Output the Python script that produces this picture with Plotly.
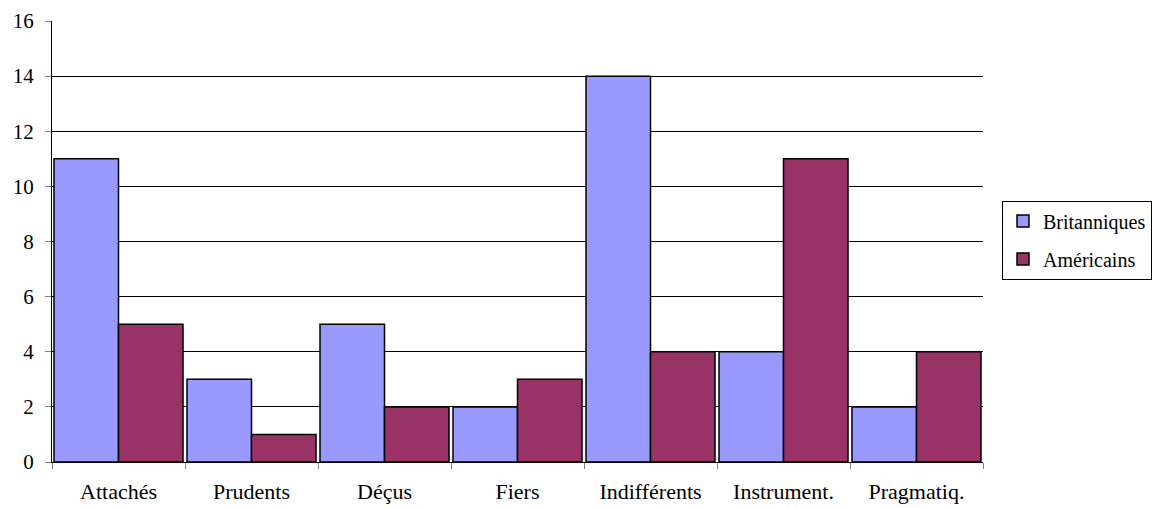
import plotly.graph_objects as go

# categories and values
categories = ["Attachés", "Prudents", "Déçus", "Fiers", "Indifférents", "Instrument.", "Pragmatiq."]
britanniques = [11, 3, 5, 2, 14, 4, 2]
americains = [5, 1, 2, 3, 4, 11, 4]
y_ticks = [0, 2, 4, 6, 8, 10, 12, 14, 16]

FONT = "Liberation Serif, Times New Roman, Times, DejaVu Serif, serif"

fig = go.Figure()
fig.add_trace(go.Bar(
    x=categories, y=britanniques, name="Britanniques", legendgroup="b",
    marker_color="#9999FF", marker_line_color="black", marker_line_width=1.5,
))
fig.add_trace(go.Bar(
    x=categories, y=americains, name="Américains", legendgroup="a",
    marker_color="#993366", marker_line_color="black", marker_line_width=1.5,
))

fig.update_layout(
    width=1160, height=508,
    barmode="group", bargap=0.03, bargroupgap=0,
    plot_bgcolor="white", paper_bgcolor="white",
    margin=dict(l=52, r=177, t=21, b=46, autoexpand=False),
    font=dict(family=FONT, size=22, color="black"),
    legend=dict(
        xref="container", yref="container",
        x=1002 / 1160, xanchor="left", y=1 - 240 / 508, yanchor="middle",
        bordercolor="black", borderwidth=1,
        traceorder="grouped", tracegroupgap=9,
        font=dict(family=FONT, size=20),
    ),
)

fig.update_xaxes(
    showline=True, linecolor="black", linewidth=1, automargin=False,
    ticks="outside", tickson="boundaries", ticklen=6, tickcolor="gray",
    tickfont=dict(family=FONT, size=22), ticklabelstandoff=10,
)
fig.update_yaxes(
    range=[0, 16], tickvals=y_ticks, automargin=False,
    showline=True, linecolor="black", linewidth=1,
    showgrid=True, gridcolor="black", gridwidth=1,
    ticks="outside", ticklen=6, tickcolor="gray",
    tickfont=dict(family=FONT, size=21), ticklabelstandoff=7, zeroline=False,
)

fig.write_html(
    "out.html",
    config={"displayModeBar": False},
    post_script="document.body.style.margin='0';",
)
